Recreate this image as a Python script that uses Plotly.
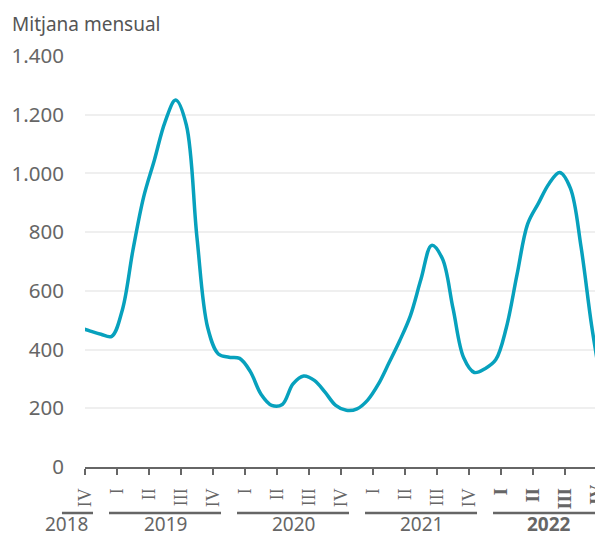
import plotly.graph_objects as go

# Monthly averages at mid-month; month index 0 = Oct 2018 (first value = Sep 2018)
monthly_mean = [475, 463, 452, 445, 535, 740, 920, 1045, 1175, 1250, 1165, 780,
                475, 385, 374, 370, 325, 248, 210, 213, 283, 310, 295, 255,
                210, 193, 198, 228, 282, 355, 430, 515, 640, 755, 710, 540,
                372, 322, 335, 365, 475, 655, 828, 898, 965, 1003, 950, 750, 480, 260]
month_pos = [i - 0.5 for i in range(len(monthly_mean))]

quarter_labels = ["IV", "I", "II", "III", "IV", "I", "II", "III", "IV",
                  "I", "II", "III", "IV", "<b>I</b>", "<b>II</b>", "<b>III</b>", "<b>IV</b>"]
quarter_ticks = [3 * i for i in range(len(quarter_labels))]

years = ["2018", "2019", "2020", "2021", "<b>2022</b>"]
year_first_q = [-3, 3, 15, 27, 39]
year_last_q = [0, 12, 24, 36, 48]

y_ticks = [0, 200, 400, 600, 800, 1000, 1200, 1400]

X_MAX = 47.81
def to_paper(m):
    return m / X_MAX

GRAY = "#666666"
FONT = "Noto Sans"
SERIF = "Liberation Serif"

fig = go.Figure()
fig.add_trace(go.Scatter(
    x=month_pos, y=monthly_mean, mode="lines",
    line=dict(color="#07a1bd", width=3.5, shape="spline", smoothing=1.0),
    hoverinfo="skip", cliponaxis=True,
))

shapes = []
annotations = []
for name, f, l in zip(years, year_first_q, year_last_q):
    x0 = f - 0.75 if f >= 0 else -2.16
    x1 = l + 0.75
    shapes.append(dict(type="line", xref="paper", yref="paper",
                       x0=to_paper(x0), x1=to_paper(x1), y0=-0.112, y1=-0.112,
                       line=dict(color=GRAY, width=2.5)))
    cx = (x0 + x1) / 2 if f >= 0 else -1.78
    annotations.append(dict(text=name, xref="paper", yref="paper",
                            x=to_paper(cx), y=-0.139, xanchor="center", yanchor="middle",
                            height=18, showarrow=False,
                            font=dict(family=FONT, size=19, color=GRAY)))

annotations.append(dict(text=quarter_labels[-1], xref="paper", yref="paper",
                        x=to_paper(quarter_ticks[-1]), y=-0.038, xanchor="center", yanchor="top",
                        textangle=-90, showarrow=False,
                        font=dict(family=SERIF, size=18, color=GRAY)))

fig.update_layout(
    width=595, height=535,
    margin=dict(l=85, r=0, t=56, b=68),
    paper_bgcolor="white", plot_bgcolor="white",
    separators=",.",
    showlegend=False,
    title=dict(text="Mitjana mensual", x=12 / 595, xref="container", xanchor="left",
               y=1 - 24 / 535, yref="container", yanchor="middle",
               font=dict(family=FONT, size=19, color="#555555")),
    shapes=shapes, annotations=annotations,
)
fig.update_xaxes(
    range=[0, X_MAX], tickvals=quarter_ticks, ticktext=quarter_labels,
    tickangle=-90, ticks="outside", ticklen=6, tickwidth=2, tickcolor=GRAY,
    showline=True, linecolor=GRAY, linewidth=2, showgrid=False, zeroline=False,
    tickfont=dict(family=SERIF, size=18, color=GRAY), ticklabelstandoff=6,
)
fig.update_yaxes(
    range=[0, 1400], tickvals=y_ticks, showgrid=True, gridcolor="#efefef", gridwidth=2,
    zeroline=False, showline=False, ticks="", ticklabelstandoff=20,
    tickfont=dict(family=FONT, size=20.5, color=GRAY), tickformat=",d",
)
fig.write_html("out.html", config={"displayModeBar": False},
               post_script="document.body.style.margin='0';")
